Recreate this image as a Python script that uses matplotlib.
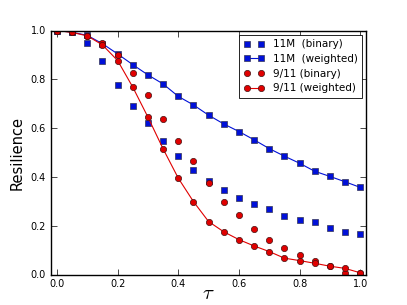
import matplotlib
matplotlib.use("Agg")
import matplotlib.pyplot as plt

plt.rcParams["mathtext.fontset"] = "cm"

tau = [0.0, 0.05, 0.1, 0.15, 0.2, 0.25, 0.3, 0.35, 0.4, 0.45, 0.5,
       0.55, 0.6, 0.65, 0.7, 0.75, 0.8, 0.85, 0.9, 0.95, 1.0]

m11_binary = [1.0, 0.993, 0.948, 0.874, 0.777, 0.691, 0.619, 0.548, 0.486, 0.43, 0.383,
              0.348, 0.313, 0.288, 0.268, 0.238, 0.225, 0.214, 0.191, 0.173, 0.167]
m11_weighted = [1.0, 0.993, 0.98, 0.946, 0.904, 0.86, 0.818, 0.781, 0.73, 0.695, 0.653,
                0.617, 0.586, 0.552, 0.516, 0.485, 0.456, 0.423, 0.402, 0.38, 0.357]
s911_binary = [1.0, 0.993, 0.978, 0.948, 0.9, 0.826, 0.735, 0.638, 0.546, 0.467, 0.376,
               0.298, 0.243, 0.186, 0.143, 0.108, 0.079, 0.056, 0.036, 0.007, 0.007]
s911_weighted = [1.0, 0.992, 0.978, 0.941, 0.877, 0.768, 0.645, 0.515, 0.395, 0.299, 0.217,
                 0.175, 0.143, 0.117, 0.094, 0.067, 0.057, 0.046, 0.034, 0.025, 0.007]

fig = plt.figure(figsize=(4.07, 3.05), dpi=100)
ax = fig.add_axes([0.125, 0.1, 0.775, 0.8])

ax.plot(tau, m11_binary, "s", color="#0010d8", ms=4.5, mec="#333355", mew=0.5,
        label="11M  (binary)")
ax.plot(tau, m11_weighted, "-s", color="#0010d8", ms=4.5, mec="#333355", mew=0.5,
        lw=0.8, label="11M  (weighted)")
ax.plot(tau, s911_binary, "o", color="#e00000", ms=4.5, mec="#441111", mew=0.5,
        label="9/11 (binary)")
ax.plot(tau, s911_weighted, "-o", color="#e00000", ms=4.5, mec="#441111", mew=0.5,
        lw=0.8, label="9/11 (weighted)")

ax.set_xlim(-0.02, 1.02)
ax.set_ylim(0, 1)
ax.set_xticks([0.0, 0.2, 0.4, 0.6, 0.8, 1.0])
ax.set_yticks([0.0, 0.2, 0.4, 0.6, 0.8, 1.0])
ax.tick_params(direction="in", top=True, right=True, labelsize=7, length=4, width=0.5)
for sp in ax.spines.values():
    sp.set_linewidth(1.0)
ax.set_xlabel(r"$\tau$", fontsize=15)
ax.xaxis.set_label_coords(0.5, -0.035)
ax.set_ylabel("Resilience", fontsize=10.5)

leg = ax.legend(loc="upper right", numpoints=2, fontsize=7.5, fancybox=False,
                framealpha=1, edgecolor="black", borderaxespad=0.4,
                handlelength=2, labelspacing=0.45, borderpad=0.45)
leg.get_frame().set_linewidth(0.6)

fig.savefig("out.png", dpi=100)
